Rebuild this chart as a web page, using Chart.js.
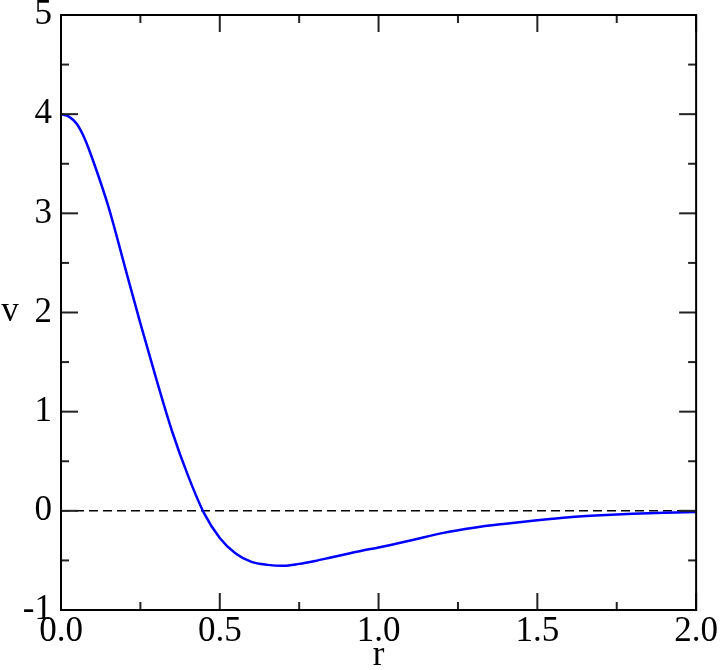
<!DOCTYPE html>
<html>
<head>
<meta charset="utf-8">
<script src="https://cdn.jsdelivr.net/npm/chart.js@4.4.0/dist/chart.umd.min.js"></script>
<style>
  body { margin: 0; background: #fff; }
</style>
</head>
<body>
<canvas id="chart" width="722" height="670"></canvas>
<script>
// values
var rValues = [0, 0.025, 0.05, 0.075, 0.10, 0.15, 0.20, 0.25, 0.30, 0.35, 0.40, 0.45, 0.50, 0.55, 0.60, 0.65, 0.70,
               0.75, 0.80, 0.85, 0.90, 0.95, 1.00, 1.10, 1.20, 1.30, 1.40, 1.50, 1.60, 1.70, 1.80, 1.90, 2.00];
var vValues = [4.0, 3.975, 3.90, 3.75, 3.54, 3.06, 2.475, 1.89, 1.33, 0.80, 0.355, -0.02, -0.273, -0.43, -0.515, -0.545, -0.555,
               -0.535, -0.505, -0.47, -0.435, -0.40, -0.37, -0.30, -0.225, -0.17, -0.13, -0.095, -0.065, -0.045, -0.03, -0.02, -0.013];
var zeroLine = [0, 0];
var zeroLineR = [0, 2];

var xTickLabels = ['0.0', '0.5', '1.0', '1.5', '2.0'];
var yTickLabels = ['-1', '0', '1', '2', '3', '4', '5'];
var xMinor = [0.25, 0.75, 1.25, 1.75];
var yMinor = [-0.5, 0.5, 1.5, 2.5, 3.5, 4.5];
var xTitle = 'r';
var yTitle = 'v';

var serif = '"Liberation Serif", "Times New Roman", serif';

// inward ticks on all four sides + frame + upright y title
var frameTicks = {
    id: 'frameTicks',
    afterDatasetsDraw: function(chart) {
        var c = chart.ctx, a = chart.chartArea;
        var xs = chart.scales.x, ys = chart.scales.y;
        c.save();
        c.strokeStyle = '#222';
        c.lineWidth = 2;
        function seg(x1, y1, x2, y2) {
            c.beginPath(); c.moveTo(x1, y1); c.lineTo(x2, y2); c.stroke();
        }
        xs.ticks.forEach(function(t) {
            var px = xs.getPixelForValue(t.value);
            seg(px, a.bottom, px, a.bottom - 17);
            seg(px, a.top, px, a.top + 17);
        });
        xMinor.forEach(function(v) {
            var px = xs.getPixelForValue(v);
            seg(px, a.bottom, px, a.bottom - 8);
            seg(px, a.top, px, a.top + 8);
        });
        ys.ticks.forEach(function(t) {
            var py = ys.getPixelForValue(t.value);
            seg(a.left, py, a.left + 17, py);
            seg(a.right, py, a.right - 17, py);
        });
        yMinor.forEach(function(v) {
            var py = ys.getPixelForValue(v);
            seg(a.left, py, a.left + 8, py);
            seg(a.right, py, a.right - 8, py);
        });
        c.strokeStyle = '#000';
        c.strokeRect(a.left, a.top, a.right - a.left, a.bottom - a.top);

        c.fillStyle = '#000';
        c.font = '35px ' + serif;
        c.textAlign = 'center';
        c.textBaseline = 'alphabetic';
        c.fillText(yTitle, 10, 321);
        c.restore();
    }
};

var ctx = document.getElementById('chart').getContext('2d');
var chart = new Chart(ctx, {
    type: 'line',
    data: {
        datasets: [
            {
                label: 'v',
                data: rValues.map(function(r, i) { return {x: r, y: vValues[i]}; }),
                borderColor: '#0000ff',
                borderWidth: 2.5,
                pointRadius: 0,
                cubicInterpolationMode: 'monotone'
            },
            {
                label: 'zero',
                data: zeroLineR.map(function(r, i) { return {x: r, y: zeroLine[i]}; }),
                borderColor: '#000',
                borderWidth: 1.5,
                borderDash: [9, 5],
                pointRadius: 0
            }
        ]
    },
    options: {
        responsive: false,
        animation: false,
        layout: { padding: { top: 15, right: 24, left: 0, bottom: 0 } },
        plugins: {
            legend: { display: false },
            tooltip: { enabled: false }
        },
        scales: {
            x: {
                type: 'linear',
                min: 0,
                max: 2,
                grid: { display: false, drawTicks: false },
                border: { display: false },
                ticks: {
                    stepSize: 0.5,
                    padding: 4,
                    color: '#000',
                    font: { family: serif, size: 35, lineHeight: 1 },
                    callback: function(value, index) { return xTickLabels[index]; }
                },
                title: {
                    display: true,
                    text: xTitle,
                    color: '#000',
                    padding: 0,
                    font: { family: serif, size: 35, lineHeight: 0.8 }
                },
                afterFit: function(scale) { scale.height = 60; }
            },
            y: {
                min: -1,
                max: 5,
                grid: { display: false, drawTicks: false },
                border: { display: false },
                ticks: {
                    stepSize: 1,
                    padding: 9,
                    color: '#000',
                    font: { family: serif, size: 35, lineHeight: 0.3 },
                    callback: function(value, index) { return yTickLabels[index]; }
                },
                afterFit: function(scale) { scale.width = 61; }
            }
        }
    },
    plugins: [frameTicks]
});
</script>
</body>
</html>
